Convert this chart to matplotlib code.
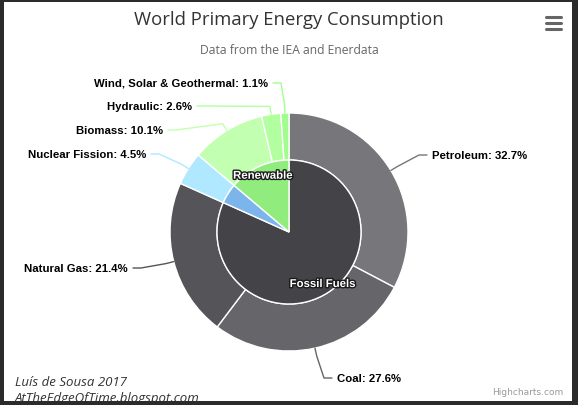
import numpy as np
import matplotlib
matplotlib.use('Agg')
import matplotlib.pyplot as plt
import matplotlib.patheffects as pe
from matplotlib.patches import Rectangle

# inner ring
groups = ['Fossil Fuels', 'Nuclear', 'Renewable']
group_vals = [81.7, 4.5, 13.8]
group_colors = ['#434348', '#7cb5ec', '#90ed7d']

# outer ring
sources = ['Petroleum', 'Coal', 'Natural Gas', 'Nuclear Fission',
           'Biomass', 'Hydraulic', 'Wind, Solar & Geothermal']
source_vals = [32.7, 27.6, 21.4, 4.5, 10.1, 2.6, 1.1]
source_colors = ['#76767b', '#65656a', '#545459', '#afe8ff',
                 '#c3ffb0', '#b2ff9f', '#a1fe8e']

# label layout (pixel positions, alignment)
label_pos = [(432, 156, 'left'), (337, 379, 'left'), (128, 269, 'right'),
             (146, 155, 'right'), (163, 131, 'right'), (192, 107, 'right'),
             (268, 84, 'right')]

W, H = 578, 406
cx, cy = 289, 233
r_out, r_in = 119, 72
lab_font = 'Liberation Sans'

fig = plt.figure(figsize=(W / 100, H / 100), dpi=100, facecolor='#2b2b2b')
ax = fig.add_axes([0, 0, 1, 1])
ax.set_facecolor('#2b2b2b')

ax.add_patch(Rectangle((4, 3), 568, 399, facecolor='white', edgecolor='none', zorder=0))

ax.pie(source_vals, colors=source_colors, radius=r_out, center=(cx, cy),
       startangle=-90, counterclock=True,
       wedgeprops=dict(width=r_out - r_in, edgecolor='white', linewidth=1))
ax.pie(group_vals, colors=group_colors, radius=r_in, center=(cx, cy),
       startangle=-90, counterclock=True,
       wedgeprops=dict(edgecolor='white', linewidth=1))

ax.set_xlim(0, W)
ax.set_ylim(H, 0)
ax.set_aspect('auto')
ax.axis('off')

# outer labels with connectors
cum = 0
for name, v, col, (lx, ly, ha) in zip(sources, source_vals, source_colors, label_pos):
    a = 2 * np.pi * (cum + v / 2) / 100
    cum += v
    x0, y0 = cx + r_out * np.sin(a), cy - r_out * np.cos(a)
    x1, y1 = cx + (r_out + 8) * np.sin(a), cy - (r_out + 8) * np.cos(a)
    side = 1 if ha == 'left' else -1
    x2 = lx - side * 5
    ax.plot([x2, x2 - side * 8, x1, x0], [ly, ly, y1, y0], color=col, lw=1,
            solid_capstyle='round', zorder=1)
    ax.text(lx, ly, f'{name}: {v}%', ha=ha, va='center', fontsize=8.2,
            fontweight='bold', color='black', family=lab_font)

# inner labels
cum = 0
for name, v in zip(groups, group_vals):
    a = 2 * np.pi * (cum + v / 2) / 100
    cum += v
    if v < 5:
        continue
    ax.text(cx + 62 * np.sin(a), cy - 62 * np.cos(a), name, ha='center', va='center',
            fontsize=8.2, fontweight='bold', color='white', family=lab_font,
            path_effects=[pe.withStroke(linewidth=2, foreground='#1a1a1a')], zorder=5)

ax.text(289, 20, 'World Primary Energy Consumption', ha='center', va='center',
        fontsize=13.3, color='#333333', family='Open Sans')
ax.text(289, 50, 'Data from the IEA and Enerdata', ha='center', va='center',
        fontsize=8.7, color='#666666', family='Open Sans')
ax.text(563, 393, 'Highcharts.com', ha='right', va='center', fontsize=6.5, color='#999999')
ax.text(15, 383, 'Luís de Sousa 2017', ha='left', va='center', fontsize=9.5,
        style='italic', color='#333333', family='Open Sans')
ax.text(15, 399, 'AtTheEdgeOfTime.blogspot.com', ha='left', va='center', fontsize=9.5,
        style='italic', color='#333333', family='Open Sans', zorder=0.5)

# menu icon
for yy in (18, 24, 30):
    ax.plot([546, 561], [yy, yy], color='#666666', lw=2.2, solid_capstyle='round')

# bottom frame on top of cut signature
ax.add_patch(Rectangle((0, 402), W, 4, facecolor='#2b2b2b', edgecolor='none', zorder=10))

fig.savefig('out.png', dpi=100, facecolor=fig.get_facecolor())
